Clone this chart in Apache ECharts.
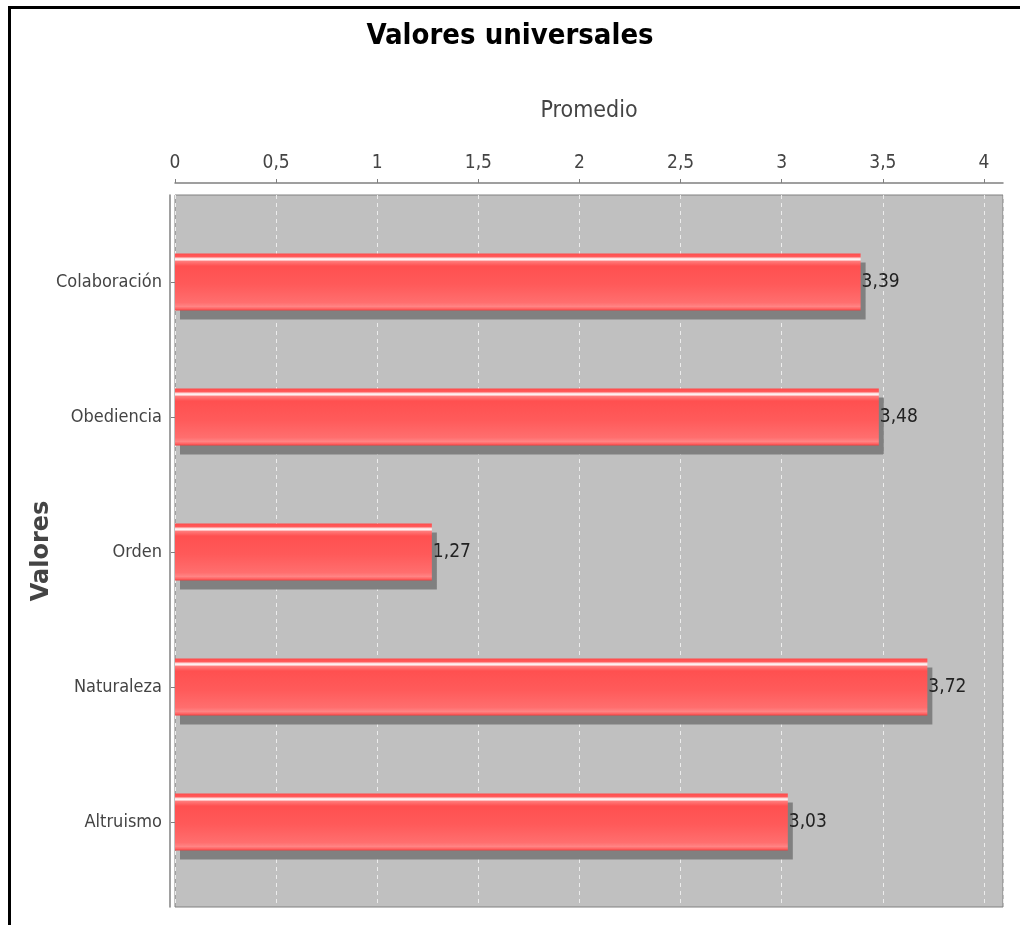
<!DOCTYPE html>
<html><head><meta charset="utf-8">
<script src="https://cdn.jsdelivr.net/npm/echarts@6/dist/echarts.min.js"></script>
<style>html,body{margin:0;padding:0;background:#fff}#c{width:1020px;height:925px}</style>
</head><body><div id="c"></div><script>
// ---- data ----
const categories = ['Colaboración', 'Obediencia', 'Orden', 'Naturaleza', 'Altruismo'];
const values = [3.39, 3.48, 1.27, 3.72, 3.03];
const axisMin = 0;
const axisMax = 4.094;
const axisStep = 0.5;
const titleText = 'Valores universales';
const xName = 'Promedio';
const yName = 'Valores';

const NARROW = "'DejaVu Sans Condensed', 'Liberation Sans Narrow', sans-serif";
const fmt = v => String(v).replace('.', ',');

const chart = echarts.init(document.getElementById('c'), null, {renderer: 'canvas'});
const barGradient = new echarts.graphic.LinearGradient(0, 0, 0, 1, [
  {offset: 0.00, color: '#ff4a4a'},
  {offset: 0.06, color: '#ff5c5c'},
  {offset: 0.08, color: '#ffd8d8'},
  {offset: 0.11, color: '#fff4f4'},
  {offset: 0.14, color: '#ff7a7a'},
  {offset: 0.22, color: '#ff5050'},
  {offset: 0.55, color: '#ff5a5a'},
  {offset: 0.86, color: '#ff6e6e'},
  {offset: 0.93, color: '#ff8484'},
  {offset: 0.97, color: '#ff6262'},
  {offset: 1.00, color: '#ee4040'}
]);

chart.setOption({
  animation: false,
  backgroundColor: '#ffffff',
  title: {
    text: titleText,
    left: 'center',
    top: 17,
    textStyle: {fontFamily: NARROW, fontSize: 29, fontWeight: 'bold', color: '#000'}
  },
  graphic: [
    {type: 'line', shape: {x1: 9.5, y1: 7.5, x2: 1020, y2: 7.5}, style: {stroke: '#000', lineWidth: 3}, silent: true},
    {type: 'line', shape: {x1: 9.5, y1: 6, x2: 9.5, y2: 925}, style: {stroke: '#000', lineWidth: 3}, silent: true}
  ],
  grid: [
    {left: 175, right: 17, top: 195, bottom: 18, show: true, backgroundColor: '#c0c0c0', borderColor: '#808080', borderWidth: 1},
    {left: 175, right: 17, top: 214.5, bottom: 35.5}
  ],
  xAxis: [
    {
      gridIndex: 0, type: 'value', position: 'top', offset: 12,
      min: axisMin, max: axisMax, interval: axisStep,
      name: xName, nameLocation: 'middle', nameGap: 60,
      nameTextStyle: {fontFamily: NARROW, fontSize: 23, color: '#444'},
      axisLine: {show: true, onZero: false, lineStyle: {color: '#808080', width: 1.5}},
      axisTick: {show: true, length: 4, lineStyle: {color: '#808080'}},
      axisLabel: {fontFamily: NARROW, fontSize: 19, color: '#444', margin: 10, showMaxLabel: false, formatter: v => fmt(v)},
      splitLine: {show: true, lineStyle: {color: '#ececec', type: [4, 4], width: 1}}
    },
    {
      gridIndex: 1, type: 'value', min: axisMin, max: axisMax, interval: axisStep, show: false
    }
  ],
  yAxis: [
    {
      gridIndex: 0, type: 'value', position: 'left', offset: 5,
      name: yName, nameLocation: 'middle', nameRotate: 90, nameGap: 116,
      nameTextStyle: {fontFamily: "'DejaVu Sans', sans-serif", fontSize: 24, fontWeight: 'bold', color: '#444'},
      axisLine: {show: true, onZero: false, lineStyle: {color: '#808080', width: 1.5}},
      axisTick: {show: false}, axisLabel: {show: false}, splitLine: {show: false}
    },
    {
      gridIndex: 1, type: 'category', data: categories, inverse: true, position: 'left', offset: 5,
      axisLine: {show: false},
      axisTick: {show: true, alignWithLabel: true, length: 4, lineStyle: {color: '#808080'}},
      axisLabel: {fontFamily: NARROW, fontSize: 18, color: '#444', margin: 8}
    }
  ],
  series: [{
    type: 'bar',
    xAxisIndex: 1, yAxisIndex: 1,
    data: values,
    barWidth: 57,
    itemStyle: {
      color: barGradient,
      shadowColor: '#808080', shadowBlur: 0, shadowOffsetX: 5, shadowOffsetY: 9
    },
    label: {
      show: true, position: 'right', distance: 1,
      fontFamily: NARROW, fontSize: 19, color: '#222',
      formatter: p => fmt(p.value)
    }
  }]
});
</script></body></html>
